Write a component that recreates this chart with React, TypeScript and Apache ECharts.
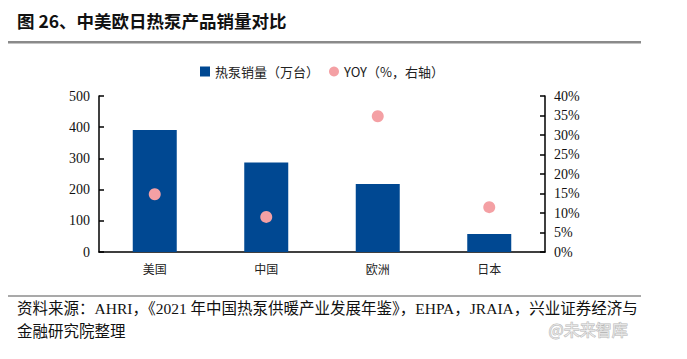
import React, { useEffect, useRef } from "react";
import * as echarts from "echarts";

const categories = ["美国", "中国", "欧洲", "日本"];
const salesValues = [391, 287, 218, 58];
const yoyValues = [14.8, 9.0, 34.8, 11.5];
const leftTicks = { min: 0, max: 500, interval: 100 };
const rightTicks = { min: 0, max: 40, interval: 5 };

const titleText = "图 26、中美欧日热泵产品销量对比";
const sourceLine1 = "资料来源：AHRI，《2021 年中国热泵供暖产业发展年鉴》，EHPA，JRAIA，兴业证券经济与";
const sourceLine2 = "金融研究院整理";
const watermark = "@未来智库";

const SERIF = "'Liberation Serif', 'Noto Sans CJK SC', serif";
const CJK = "'Noto Sans CJK SC', 'Liberation Serif', sans-serif";

export default function App() {
  const ref = useRef<HTMLDivElement>(null);
  useEffect(() => {
    if (!ref.current) return;
    const chart = echarts.init(ref.current, undefined, { renderer: "svg" });
    chart.setOption({
      animation: false,
      backgroundColor: "#ffffff",
      grid: { left: 99, right: 142, top: 96, bottom: 107 },
      legend: {
        top: 60,
        left: 195,
        itemWidth: 10,
        itemHeight: 10,
        itemGap: 10,
        textStyle: { fontFamily: CJK, fontSize: 13, color: "#222" },
        data: [
          { name: "热泵销量（万台）", icon: "rect" },
          { name: "YOY（%，右轴）", icon: "circle" },
        ],
      },
      xAxis: {
        type: "category",
        data: categories,
        axisLine: { show: true, lineStyle: { color: "#000", width: 1.5 } },
        axisTick: { show: false },
        axisLabel: { fontFamily: CJK, fontSize: 12, color: "#222", margin: 10 },
        splitLine: { show: false },
      },
      yAxis: [
        {
          type: "value",
          min: leftTicks.min,
          max: leftTicks.max,
          interval: leftTicks.interval,
          axisLine: { show: true, lineStyle: { color: "#000", width: 1.5 } },
          axisTick: { show: true, inside: true, length: 5, lineStyle: { color: "#000", width: 1.5 } },
          axisLabel: { fontFamily: SERIF, fontSize: 14, color: "#111", margin: 9 },
          splitLine: { show: false },
        },
        {
          type: "value",
          min: rightTicks.min,
          max: rightTicks.max,
          interval: rightTicks.interval,
          position: "right",
          axisLine: { show: true, lineStyle: { color: "#000", width: 1.5 } },
          axisTick: { show: true, inside: true, length: 5, lineStyle: { color: "#000", width: 1.5 } },
          axisLabel: { fontFamily: SERIF, fontSize: 14, color: "#111", margin: 9, formatter: "{value}%" },
          splitLine: { show: false },
        },
      ],
      series: [
        {
          name: "热泵销量（万台）",
          type: "bar",
          data: salesValues,
          barWidth: 44,
          itemStyle: { color: "#004892" },
          yAxisIndex: 0,
        },
        {
          name: "YOY（%，右轴）",
          type: "scatter",
          data: yoyValues,
          yAxisIndex: 1,
          symbol: "circle",
          symbolSize: 12,
          itemStyle: { color: "#F4A0A4", opacity: 1 },
        },
      ],
      graphic: [
        {
          type: "text",
          left: 17,
          top: 12,
          style: { text: titleText, fontFamily: CJK, fontWeight: "bold", fontSize: 17.5, fill: "#111" },
        },
        {
          type: "rect",
          shape: { x: 8, y: 41, width: 633, height: 2.5 },
          style: { fill: "#8a8a8a" },
        },
        {
          type: "rect",
          shape: { x: 8, y: 295.5, width: 633, height: 1 },
          style: { fill: "#555" },
        },
        {
          type: "text",
          left: 17,
          top: 301,
          style: { text: sourceLine1, fontFamily: SERIF, fontSize: 15.5, fill: "#111" },
        },
        {
          type: "text",
          left: 17,
          top: 324,
          style: { text: sourceLine2, fontFamily: SERIF, fontSize: 15.5, fill: "#111" },
        },
        {
          type: "text",
          left: 548,
          top: 320,
          style: { text: watermark, fontFamily: CJK, fontSize: 16, fill: "rgba(255,255,255,0.6)", stroke: "#b8b8b8", lineWidth: 1 },
        },
      ],
    });
    return () => chart.dispose();
  }, []);
  return (
    <div
      ref={ref}
      style={{ position: "absolute", left: 0, top: 0, width: 687, height: 359, background: "#fff" }}
    />
  );
}
